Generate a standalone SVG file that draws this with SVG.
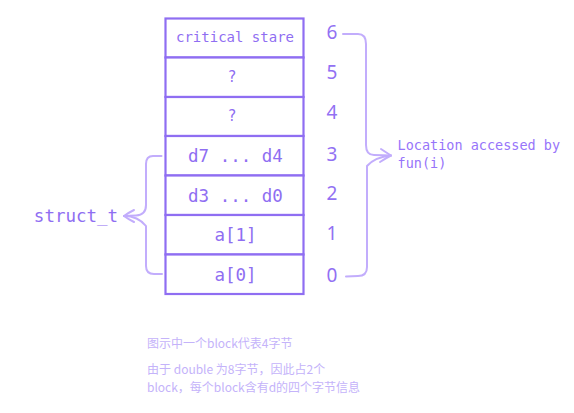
<svg xmlns="http://www.w3.org/2000/svg" width="574" height="413" viewBox="0 0 574 413">
<style>
.cell{fill:#ffffff;stroke:#8f6ef2;stroke-width:2.2}
.mono{font-family:"DejaVu Sans Mono","Liberation Mono",monospace;fill:#8f6ef2;text-anchor:middle}
.num{font-family:"Noto Sans","DejaVu Sans",sans-serif;font-size:19px;fill:#9271f3;text-anchor:middle}
.brace{fill:none;stroke:#c2adfc;stroke-width:2;stroke-linecap:round;stroke-linejoin:round}
.note{font-family:"Noto Sans CJK SC","Noto Sans",sans-serif;font-size:12px;fill:#c4b3fa}
</style>
<rect width="574" height="413" fill="#ffffff"/>
<g id="stack">
<g id="cell6"><rect class="cell" x="165.5" y="18.5" width="138" height="39"/><text class="mono" x="235" y="42" font-size="14">critical stare</text></g>
<g id="cell5"><rect class="cell" x="165.5" y="57.5" width="138" height="39.5"/><text class="mono" x="232" y="82" font-size="15">?</text></g>
<g id="cell4"><rect class="cell" x="165.5" y="97" width="138" height="39"/><text class="mono" x="232" y="121" font-size="15">?</text></g>
<g id="cell3"><rect class="cell" x="165.5" y="136" width="138" height="39.5"/><text class="mono" x="235.5" y="162" font-size="17.5">d7 ... d4</text></g>
<g id="cell2"><rect class="cell" x="165.5" y="175.5" width="138" height="39.5"/><text class="mono" x="235.5" y="201.5" font-size="17.5">d3 ... d0</text></g>
<g id="cell1"><rect class="cell" x="165.5" y="215" width="138" height="39.5"/><text class="mono" x="235.5" y="241" font-size="17.5">a[1]</text></g>
<g id="cell0"><rect class="cell" x="165.5" y="254.5" width="138" height="39.5"/><text class="mono" x="235.5" y="280.5" font-size="17.5">a[0]</text></g>
</g>
<g id="indices">
<text class="num" x="332" y="39">6</text>
<text class="num" x="332" y="79">5</text>
<text class="num" x="332" y="119">4</text>
<text class="num" x="332" y="161">3</text>
<text class="num" x="332" y="200">2</text>
<text class="num" x="332" y="240">1</text>
<text class="num" x="332" y="282">0</text>
</g>
<g id="connectors">
<path class="brace" d="M343 34 L358 34 Q366 34 366 44 L366 145 Q366 155 374 155 L391 155.5"/>
<path class="brace" d="M391 155.5 Q375 157 367 166 L367 267 Q367 276 358 276 L346 276.5"/>
<path class="brace" d="M381 149 Q387 153 391 155.5 Q386 158 380 162"/>
<path class="brace" d="M161.5 156 L153 156 Q146 156 146 164 L146 205 Q146 215 136 215.5 L124 216"/>
<path class="brace" d="M124 216 Q138 216 146 226 L146 266 Q146 274 154 274 L162 274"/>
<path class="brace" d="M134 210 Q128 213 124 216 Q128 219 134 222"/>
</g>
<g id="labels">
<text class="mono" x="76" y="222" font-size="17.5">struct_t</text>
<text font-family="DejaVu Sans Mono,Liberation Mono,monospace" font-size="13.5" fill="#9775fa"><tspan x="397.5" y="150">Location accessed by</tspan><tspan x="397.5" y="168">fun(i)</tspan></text>
</g>
<g id="notes">
<text class="note" x="147" y="348">图示中一个block代表4字节</text>
<text class="note" x="147" y="373.5">由于 double 为8字节，因此占2个</text>
<text class="note" x="147" y="392">block，每个block含有d的四个字节信息</text>
</g>
</svg>
